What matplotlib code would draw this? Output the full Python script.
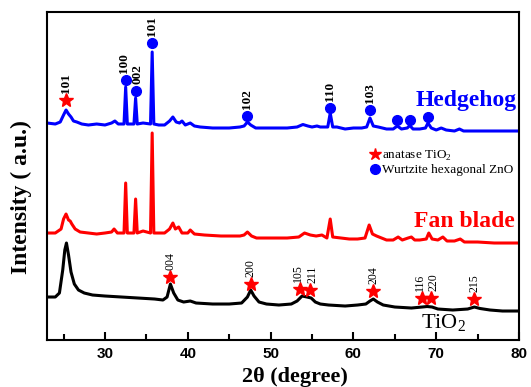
import numpy as np
import matplotlib
matplotlib.use("Agg")
import matplotlib.pyplot as plt
from matplotlib.lines import Line2D
from matplotlib.ticker import MultipleLocator

# XRD patterns (2theta in degrees, intensity in arbitrary units)
tio2_x = [23.0, 24.0, 24.5, 24.9, 25.15, 25.35, 25.6, 25.9, 26.3, 26.8, 27.5, 28.5, 30, 32, 34, 36,
          37.0, 37.5, 37.9, 38.3, 38.8, 39.5, 40.3, 41, 43, 45, 46.5, 47.2, 47.6, 48.0, 48.6, 49.5,
          51, 52.5, 53.2, 53.8, 54.4, 54.9, 55.4, 56, 57, 59, 60.5, 61.5, 62.0, 62.4, 62.9, 63.6,
          65, 67, 68.3, 68.9, 69.5, 70.2, 72, 73.8, 74.6, 75.3, 76.5, 78, 80]
tio2_y = [23, 23, 27, 50, 70, 77, 65, 48, 36, 30, 27, 25, 24, 23, 22, 21,
          20, 23, 36, 27, 20, 18, 19, 17, 16, 16, 17, 23, 30, 24, 18, 16,
          15, 16, 19, 24, 23, 22, 18, 16, 15, 14, 15, 16, 19, 21, 18, 15,
          13, 12, 13, 13.5, 13, 11, 10, 11, 13, 11.5, 10, 9, 9]

fan_x = [23.0, 24.0, 24.7, 25.0, 25.3, 25.6, 25.8, 26.0, 26.4, 27, 28, 29, 30, 30.8, 31.1, 31.5,
         32.3, 32.5, 32.7, 33.5, 33.7, 33.9, 34.6, 35.5, 35.7, 35.9, 36.5, 37.2, 37.8, 38.2, 38.5,
         38.9, 39.3, 40.0, 40.3, 40.8, 42, 44, 45.5, 46.3, 46.8, 47.2, 47.7, 48.3, 50, 52, 53.4,
         54.1, 54.8, 55.5, 56.2, 56.8, 57.2, 57.5, 58.5, 59.5, 60.5, 61.4, 61.9, 62.3, 62.8, 63.4,
         64, 64.8, 65.4, 65.9, 66.6, 67.0, 67.4, 68, 68.8, 69.1, 69.5, 70.2, 70.8, 71.3, 72.2,
         72.9, 73.4, 75, 77, 80]
fan_y = [17, 17, 21, 31, 36, 30, 29, 26, 21, 18, 17, 16, 17, 18, 21, 17,
         17, 67, 17, 17, 51, 17, 19, 17, 117, 17, 17, 17, 21, 27, 21,
         23, 17, 17, 20, 16, 15, 14, 14, 14, 15, 18, 14, 12, 12, 12, 13,
         17, 15, 14, 15, 12, 31, 13, 12, 11, 11, 12, 25, 16, 14, 12,
         10, 10, 13, 10, 12, 13, 10, 10, 11, 17, 11, 10, 13, 9, 9,
         11, 8, 8, 7, 7]

hog_x = [23.0, 24.0, 24.6, 25.0, 25.3, 25.6, 25.9, 26.2, 26.6, 27.2, 28, 29, 30, 30.8, 31.2, 31.6,
         32.3, 32.5, 32.7, 33.5, 33.7, 33.9, 34.6, 35.5, 35.7, 35.9, 36.5, 37.2, 37.8, 38.2, 38.6,
         39.0, 39.3, 39.7, 40.3, 40.8, 41.5, 43, 45, 46.3, 46.8, 47.2, 47.6, 48.2, 50, 52, 53.2,
         53.9, 54.5, 55, 55.6, 56, 56.9, 57.2, 57.5, 58, 59, 60, 61, 61.6, 62.0, 62.4, 63, 64,
         64.8, 65.3, 65.8, 66.5, 66.8, 67.2, 68, 68.7, 69.0, 69.4, 70.0, 70.6, 71.2, 72.2, 72.8,
         73.3, 75, 77, 80]
hog_y = [17, 16, 18, 25, 30, 26, 23, 19, 18, 16, 15, 16, 15, 17, 19, 16,
         16, 53, 16, 16, 42, 16, 17, 16, 88, 16, 15, 15, 19, 23, 18,
         17, 19, 15, 17, 14, 13, 12, 12, 13, 14, 18, 15, 12, 12, 12, 13,
         15.5, 14, 13, 14, 13, 13, 27, 13, 13, 11, 12, 12, 13, 22, 14, 13, 11,
         11, 14, 11, 12, 14.5, 11, 11, 12, 17, 12, 10, 12, 10, 9, 11,
         9, 9, 9, 9]

# peak markers: (2theta, marker height, hkl)
hog_zno = [(32.5, 60, "100"), (33.7, 49, "002"), (35.7, 97, "101"), (47.2, 24, "102"),
           (57.2, 32, "110"), (62.0, 30, "103"), (65.3, 20, ""), (66.8, 20, ""), (69.0, 23, "")]
hog_tio2 = [(25.3, 40, "101")]
tio2_peaks = [(37.9, 43, "004"), (47.6, 36, "200"), (53.6, 31, "105"), (54.8, 30, "211"),
              (62.4, 29, "204"), (68.3, 22, "116"), (69.4, 22, "220"), (74.6, 21, "215")]

offsets = {"tio2": 20, "fan": 90, "hog": 200}
# small sideways nudges (points) so that neighbouring labels don't collide
nudge = {32.5: -1.5, 33.7: 1.5, 53.6: -1.5, 54.8: 1.5, 68.3: -1.5, 69.4: 1.5}

serif = "Liberation Serif"
sans = "Liberation Sans"

fig = plt.figure(figsize=(5.31, 3.87), dpi=100)
ax = fig.add_axes([0.0885, 0.1214, 0.889, 0.8476])

ax.plot(tio2_x, np.array(tio2_y) + offsets["tio2"], color="black", lw=2.2)
ax.plot(fan_x, np.array(fan_y) + offsets["fan"], color="red", lw=2.2)
ax.plot(hog_x, np.array(hog_y) + offsets["hog"], color="blue", lw=2.2)


def mark(peaks, off, marker, color, size, weight, fs):
    for x, y, hkl in peaks:
        ax.plot(x, y + off, marker=marker, color=color, ms=size, mec=color)
        if hkl:
            ax.annotate(hkl, (x, y + off), xytext=(nudge.get(x, 0), 5), textcoords="offset points",
                        rotation=90, ha="center", va="bottom", fontsize=fs,
                        family=serif, fontweight=weight, linespacing=1.0)


mark(hog_zno, offsets["hog"], "o", "blue", 7, "bold", 9.5)
mark(hog_tio2, offsets["hog"], "*", "red", 10, "bold", 9.5)
mark(tio2_peaks, offsets["tio2"], "*", "red", 10, "normal", 8.5)

ax.text(0.995, 0.73, "Hedgehog", transform=ax.transAxes, ha="right", va="center",
        color="blue", fontsize=17, fontweight="bold", family=serif)
ax.text(0.99, 0.36, "Fan blade", transform=ax.transAxes, ha="right", va="center",
        color="red", fontsize=17, fontweight="bold", family=serif)
ax.text(0.84, 0.05, "TiO$_\\mathregular{2}$", transform=ax.transAxes, ha="center", va="center",
        color="black", fontsize=16, family=serif)

handles = [Line2D([], [], marker="*", color="red", ls="", ms=9),
           Line2D([], [], marker="o", color="blue", ls="", ms=7)]
ax.legend(handles, ["anatase TiO$_\\mathregular{2}$", "Wurtzite hexagonal ZnO"],
          loc="upper left", bbox_to_anchor=(0.67, 0.6), frameon=False,
          prop={"family": serif, "size": 9.5}, handletextpad=0.05, handlelength=1.0,
          labelspacing=0.1, borderaxespad=0)

ax.set_xlim(23, 80)
ax.set_ylim(0, 328)
ax.xaxis.set_major_locator(MultipleLocator(10))
ax.xaxis.set_minor_locator(MultipleLocator(5))
ax.set_yticks([])
ax.tick_params(axis="x", which="major", direction="in", length=6, width=1.5, pad=5)
ax.tick_params(axis="x", which="minor", direction="in", length=4, width=1.5)
for lab in ax.get_xticklabels():
    lab.set_fontfamily(sans)
    lab.set_fontweight("bold")
    lab.set_fontsize(11)
for s in ax.spines.values():
    s.set_linewidth(1.5)

fig.text(0.555, 0.026, "2θ (degree)", ha="center", va="center", fontsize=16,
         fontweight="bold", family=serif)
fig.text(0.04, 0.49, "Intensity ( a.u.)", ha="center", va="center", rotation=90,
         fontsize=17, fontweight="bold", family=serif)

fig.savefig("out.png", dpi=100)
